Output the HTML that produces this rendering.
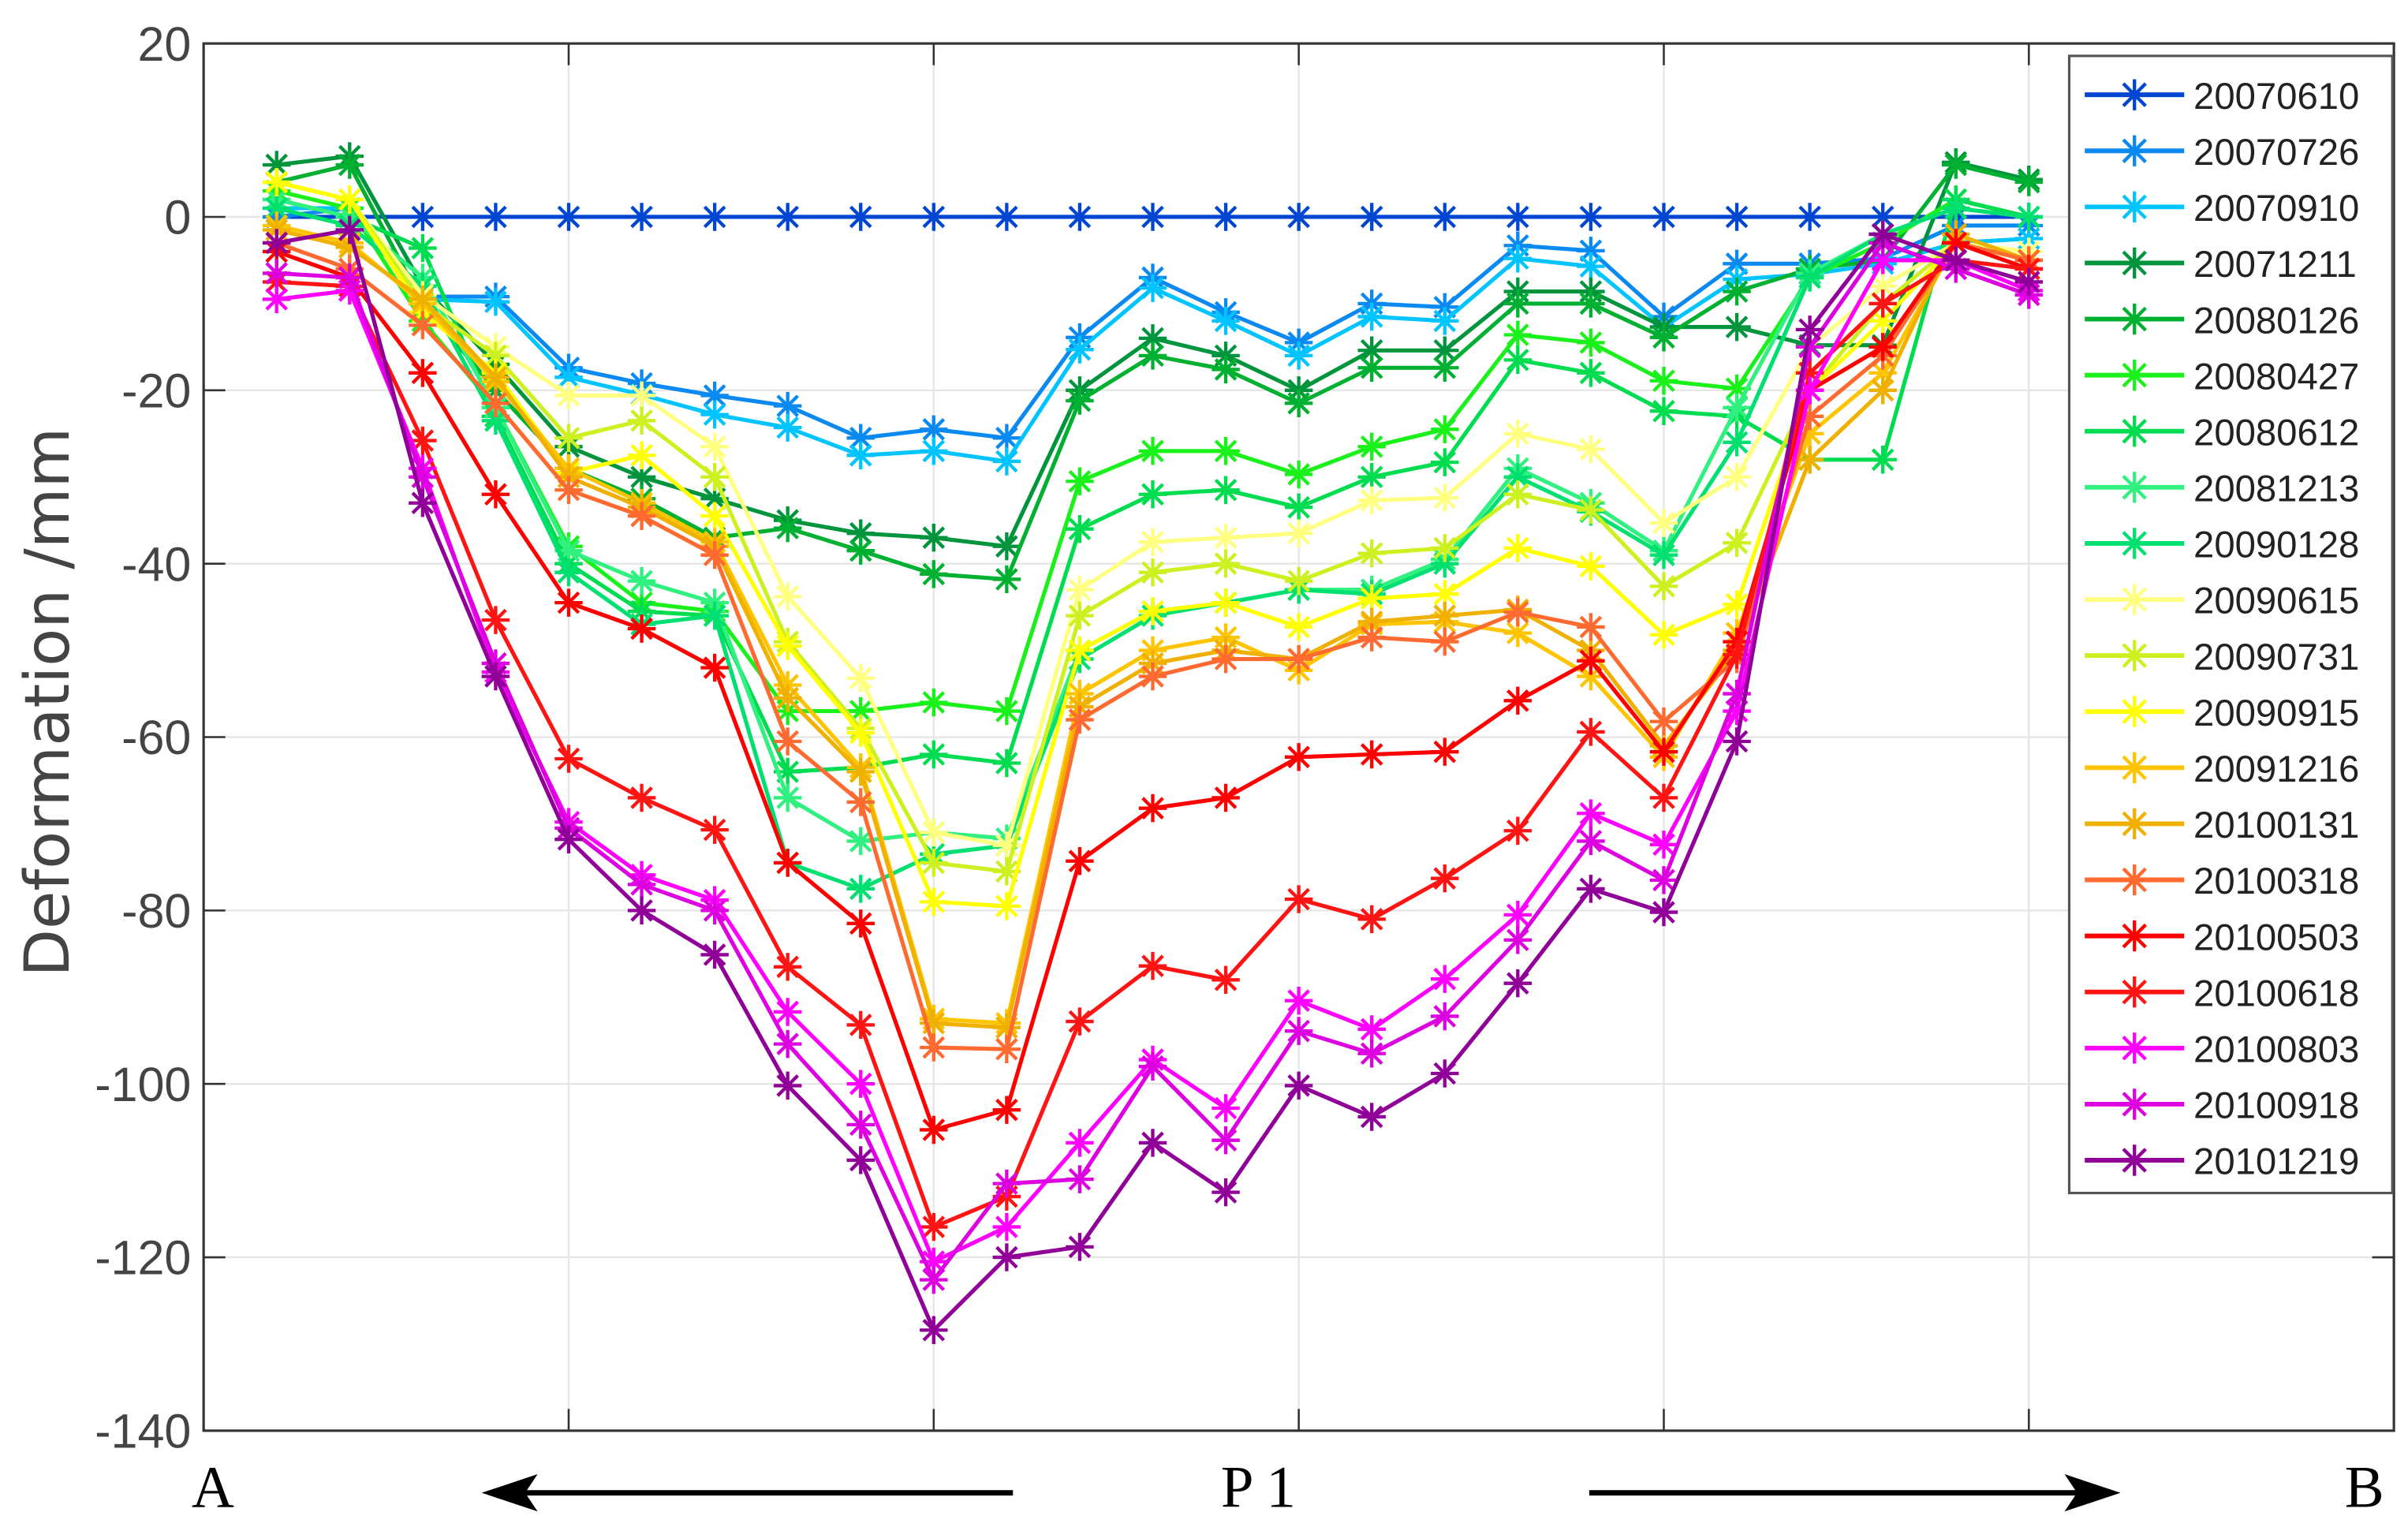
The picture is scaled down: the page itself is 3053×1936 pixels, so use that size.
<!DOCTYPE html>
<html><head><meta charset="utf-8">
<style>
html,body{margin:0;padding:0;background:#fff;}
svg{display:block;}
text{font-family:"Liberation Sans",sans-serif;}
</style></head>
<body>
<svg id="chart" width="3053" height="1936" viewBox="0 0 1550 983" xmlns="http://www.w3.org/2000/svg">
<g id="grid"></g>
<g id="series"></g>
<g id="axes"></g>
<g id="legend"></g>
<text x="0" y="0" transform="translate(44,452) rotate(-90)" text-anchor="middle" font-size="40" fill="#444" style="font-family:'DejaVu Sans',sans-serif">Deformation /mm</text>
<text x="137" y="970" text-anchor="middle" font-size="38" style="font-family:'Liberation Serif',serif">A</text>
<text x="810" y="970" text-anchor="middle" font-size="38" style="font-family:'Liberation Serif',serif">P 1</text>
<text x="1522" y="970" text-anchor="middle" font-size="38" style="font-family:'Liberation Serif',serif">B</text>
<g>
<line x1="652" y1="961" x2="330" y2="961" stroke="#000" stroke-width="3.5"/>
<polygon points="310,961 346,949 338,961 346,973" fill="#000"/>
</g>
<g>
<line x1="1023" y1="961" x2="1345" y2="961" stroke="#000" stroke-width="3.5"/>
<polygon points="1365,961 1329,949 1337,961 1329,973" fill="#000"/>
</g>
</svg>
<script>
const seriesNames = ["20070610","20070726","20070910","20071211","20080126","20080427","20080612","20081213","20090128","20090615","20090731","20090915","20091216","20100131","20100318","20100503","20100618","20100803","20100918","20101219"];
const seriesColors = ["#0046d2","#0a8af0","#00c4ff","#00953c","#00b030","#1af01a","#00dc50","#30f080","#00e070","#ffff80","#ccf020","#ffff00","#ffc400","#f0b000","#ff6a30","#ff0000","#ff1414","#ff00ff","#dd00e0","#900098"];
const xIndex = [0,1,2,3,4,5,6,7,8,9,10,11,12,13,14,15,16,17,18,19,20,21,22,23,24];
const yTicks = [20,0,-20,-40,-60,-80,-100,-120,-140];
const s20070610 = [0,0,0,0,0,0,0,0,0,0,0,0,0,0,0,0,0,0,0,0,0,0,0,0,0];
const s20070726 = [0,1,-9.2,-9.2,-17.4,-19.2,-20.6,-21.8,-25.5,-24.5,-25.5,-13.9,-7,-11,-14.5,-10,-10.4,-3.3,-3.9,-11.5,-5.4,-5.4,-4.8,-1,-1];
const s20070910 = [1,1,-9.5,-9.8,-18.5,-20.5,-22.8,-24.3,-27.5,-27,-28.2,-15.3,-8.2,-12,-16,-11.5,-12,-4.8,-5.7,-12.7,-7.2,-6.6,-5.4,-3,-2.5];
const s20071211 = [6,7,-8,-17,-26.5,-30,-32.5,-35,-36.5,-37,-38,-20,-14,-16,-20,-15.4,-15.4,-8.6,-8.6,-12.7,-12.7,-14.8,-14.8,6.3,4.3];
const s20080126 = [4,6,-10,-20,-29,-32.5,-37,-35.9,-38.5,-41.2,-41.8,-21.2,-16,-17.6,-21.5,-17.4,-17.4,-10,-10,-13.9,-8.6,-6,-5,6,4];
const s20080427 = [3,1,-12,-22,-38,-44.5,-45.5,-57,-57,-56,-57,-30.5,-27,-27,-29.7,-26.5,-24.5,-13.6,-14.5,-18.9,-19.8,-7,-3,2,0];
const s20080612 = [2,0,-3.6,-23,-40,-45.5,-46,-64,-63.5,-62,-63,-36,-32,-31.5,-33.5,-30,-28.3,-16.5,-18,-22.4,-23,-28,-28,2,0];
const s20081213 = [2,0,-7,-22,-38.5,-42,-44.5,-67,-72,-71,-71.7,-50,-45.5,-44.5,-43,-43,-39.5,-29,-33,-38.5,-22,-6.5,-2,1,0];
const s20090128 = [1,-1,-8,-23.5,-41,-47,-46,-74.5,-77.5,-73.5,-72.5,-51,-46,-44.5,-43,-43.5,-40,-30,-34,-39,-26,-7,-2,1,0];
const s20090615 = [4,2,-9,-15,-20.6,-20.6,-26.5,-43.8,-53.2,-71,-72.5,-43,-37.5,-37,-36.5,-32.7,-32.4,-25,-26.8,-35.3,-30,-15,-8,-3,-4];
const s20090731 = [4,2,-10,-16,-25.5,-23.5,-30,-49,-59,-74.5,-75.5,-46,-41,-40,-42,-38.8,-38.2,-32,-33.8,-42.6,-37.6,-20,-10,-3,-5];
const s20090915 = [4,2,-11,-18,-29.5,-27.5,-34.5,-49.5,-59.5,-79,-79.5,-50,-45.5,-44.5,-47.3,-44,-43.5,-38.2,-40.3,-48.2,-44.7,-20,-12,-3,-5];
const s20091216 = [-1,-3,-10,-19,-29,-33,-37.5,-54,-63.5,-92.5,-93,-55,-50,-48.5,-52.3,-47,-46.7,-48,-53,-62.3,-48,-25,-18,-3,-6];
const s20100131 = [-1.5,-3.5,-9.5,-18.5,-30,-33.5,-38,-55.5,-64,-93,-93.5,-56.5,-51.5,-50,-51,-46.7,-46,-45.3,-50,-61,-50,-28,-20,-2,-5];
const s20100318 = [-3,-6,-12.5,-21.5,-31.5,-34.5,-39,-60.5,-67.5,-95.8,-96,-58,-53,-51,-51,-48.5,-49,-45.6,-47.3,-58.2,-51,-23,-16,-3,-5];
const s20100503 = [-4,-7,-18,-32,-44.5,-47.5,-52,-74.5,-81.5,-105.3,-103,-74.3,-68.2,-67,-62.3,-62,-61.7,-55.8,-51.2,-61.7,-49,-20,-15,-3,-6];
const s20100618 = [-7.5,-8,-25.8,-46.5,-62.5,-67,-70.7,-86.5,-93.2,-116.5,-113,-92.8,-86.4,-88,-78.7,-81,-76.3,-70.8,-59.4,-67,-50.5,-18,-10,-5,-6];
const s20100803 = [-9.5,-8.5,-29,-52.5,-69.8,-75.9,-78.8,-91.7,-100,-120.5,-116.5,-106.8,-97.2,-102.8,-90.4,-93.7,-87.9,-80.5,-68.8,-72.4,-57,-20,-5,-5,-8.5];
const s20100918 = [-6.5,-7,-30,-51.5,-70.5,-77,-80,-95.4,-104.7,-122.6,-111.5,-111,-98,-106.5,-93.9,-96.5,-92.2,-83.4,-72,-76.5,-55,-15,-3,-6,-9];
const s20101219 = [-3,-1.5,-33,-53,-71.8,-80,-85.1,-100.2,-108.8,-128.4,-120,-118.8,-106.8,-112.5,-100.2,-103.8,-98.8,-88.4,-77.5,-80.2,-60.5,-13,-2,-5,-7.5];
const seriesData = [s20070610,s20070726,s20070910,s20071211,s20080126,s20080427,s20080612,s20081213,s20090128,s20090615,s20090731,s20090915,s20091216,s20100131,s20100318,s20100503,s20100618,s20100803,s20100918,s20101219];

const NS = "http://www.w3.org/2000/svg";
const L = 131, R = 1541, T = 28, B = 921;
const xMin = -1, xMax = 29, yMin = -140, yMax = 20;
function xs(i){ return L + (i - xMin) / (xMax - xMin) * (R - L); }
function ys(v){ return T + (yMax - v) / (yMax - yMin) * (B - T); }
function mk(tag, attrs, parent){
  const e = document.createElementNS(NS, tag);
  for (const k in attrs) e.setAttribute(k, attrs[k]);
  parent.appendChild(e);
  return e;
}
const grid = document.getElementById('grid');
const axes = document.getElementById('axes');
const sg = document.getElementById('series');
const lg = document.getElementById('legend');

// grid lines
const xGridIdx = [4,9,14,19,24];
xGridIdx.forEach(function(i){
  const g = mk('line', {x1:xs(i), x2:xs(i), y1:T, y2:B, stroke:'#e6e6e6', 'stroke-width':1.2}, grid);
  
  
  const t1 = mk('line', {x1:xs(i), x2:xs(i), y1:T, y2:T+14, stroke:'#333', 'stroke-width':1.3}, axes);
  
  
  const t2 = mk('line', {x1:xs(i), x2:xs(i), y1:B, y2:B-14, stroke:'#333', 'stroke-width':1.3}, axes);
  
  
});
yTicks.forEach(function(v){
  const y = ys(v);
  const g = mk('line', {x1:L, x2:R, y1:y, y2:y, stroke:'#e6e6e6', 'stroke-width':1.2}, grid);
  
  
  const t1 = mk('line', {x1:L, x2:L+14, y1:y, y2:y, stroke:'#333', 'stroke-width':1.3}, axes);
  
  
  const t2 = mk('line', {x1:R, x2:R-14, y1:y, y2:y, stroke:'#333', 'stroke-width':1.3}, axes);
  
  
  const lab = mk('text', {x:L-8, y:y+11, 'text-anchor':'end', 'font-size':31, fill:'#444'}, axes);
  lab.textContent = String(v);
  
  
});
const frame = mk('rect', {x:L, y:T, width:R-L, height:B-T, fill:'none', stroke:'#333', 'stroke-width':1.6}, axes);



function star(parent, cx, cy, r, color){
  const d = [];
  d.push('M'+(cx-r)+' '+cy+'L'+(cx+r)+' '+cy);
  d.push('M'+cx+' '+(cy-r)+'L'+cx+' '+(cy+r));
  const q = r*0.72;
  d.push('M'+(cx-q)+' '+(cy-q)+'L'+(cx+q)+' '+(cy+q));
  d.push('M'+(cx-q)+' '+(cy+q)+'L'+(cx+q)+' '+(cy-q));
  return mk('path', {d:d.join(''), stroke:color, 'stroke-width':2.2, fill:'none'}, parent);
}

seriesData.forEach(function(arr, si){
  const color = seriesColors[si];
  const g = mk('g', {}, sg);
  
  
  const pts = arr.map(function(v, i){ return xs(xIndex[i]) + ',' + ys(v); }).join(' ');
  const pl = mk('polyline', {points:pts, fill:'none', stroke:color, 'stroke-width':2.6, 'stroke-linejoin':'round'}, g);
  
  
  arr.forEach(function(v, i){
    const m = star(g, xs(xIndex[i]), ys(v), 9, color);
    
    
  });
});

// legend
const lb = mk('rect', {x:1332, y:36, width:208, height:732, fill:'#fff', stroke:'#555', 'stroke-width':1.6}, lg);


seriesNames.forEach(function(n, si){
  const y = 61 + si * 36.1;
  const g = mk('g', {}, lg);
  
  
  mk('line', {x1:1342, x2:1406, y1:y, y2:y, stroke:seriesColors[si], 'stroke-width':3}, g);
  star(g, 1374, y, 10, seriesColors[si]);
  const t = mk('text', {x:1412, y:y+9, 'font-size':24, fill:'#222'}, g);
  t.textContent = n;
  
  
});
</script>
</body></html>
